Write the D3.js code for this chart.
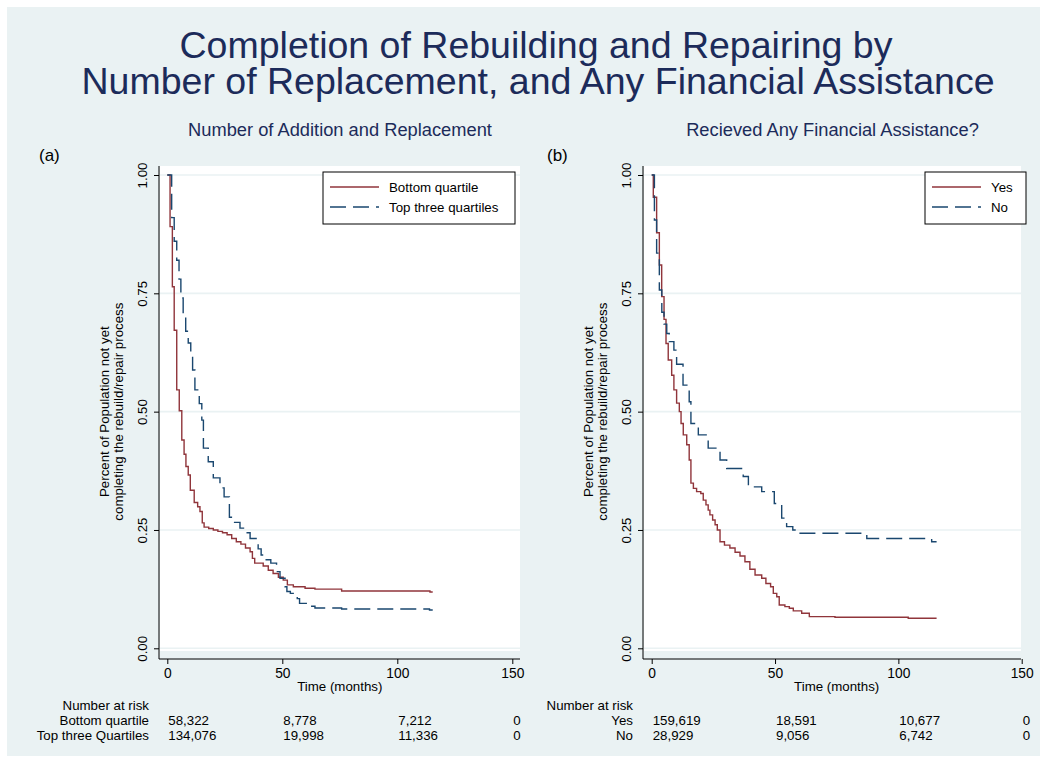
<!DOCTYPE html>
<html>
<head>
<meta charset="utf-8">
<script src="https://cdn.jsdelivr.net/npm/d3@7"></script>
<style>
  html, body { margin: 0; padding: 0; background: #fff; }
  svg { display: block; font-family: "Liberation Sans", Arial, sans-serif; }
</style>
</head>
<body>
<svg id="chart" width="1047" height="768"></svg>
<script>
// ---------- data ----------
const xTicks = [0, 50, 100, 150];
const yTicks = [0, 0.25, 0.5, 0.75, 1];
const yTickLabels = ["0.00", "0.25", "0.50", "0.75", "1.00"];

// (a) Number of addition and replacement
const bottomQuartileT = [0, 1.2, 2.2, 3.0, 4.1, 5.2, 6.3, 7.3, 8.1, 9.1, 10.0, 11.7, 13.2, 14.2, 15.2, 16.0, 18, 20, 22, 24, 26, 28, 30, 32, 34, 36, 37, 38, 41.7, 43.9, 46, 48.3, 50.4, 52.2, 54.8, 59.9, 64.2, 75.8, 114.2, 115.4];
const bottomQuartileS = [1, 0.891, 0.764, 0.672, 0.546, 0.502, 0.44, 0.41, 0.384, 0.366, 0.334, 0.308, 0.299, 0.289, 0.265, 0.256, 0.253, 0.25, 0.247, 0.244, 0.24, 0.232, 0.225, 0.22, 0.212, 0.204, 0.19, 0.18, 0.174, 0.165, 0.158, 0.15, 0.144, 0.134, 0.13, 0.127, 0.125, 0.121, 0.119, 0.119];
const topThreeT = [0, 1.9, 3.0, 4.1, 5.1, 5.9, 6.9, 8.0, 9.1, 10.2, 11.0, 12.0, 13.9, 15.0, 15.7, 17.8, 20.0, 22.9, 24.7, 27.0, 28.6, 31.6, 33.8, 36.0, 39.5, 40.8, 43.0, 45.0, 47.5, 49.0, 51.2, 52.0, 53.5, 56.5, 57.5, 62.8, 64.2, 75.8, 114.0, 115.4];
const topThreeS = [1, 0.91, 0.86, 0.82, 0.78, 0.74, 0.70, 0.67, 0.645, 0.626, 0.588, 0.546, 0.517, 0.482, 0.423, 0.394, 0.36, 0.339, 0.32, 0.277, 0.266, 0.254, 0.244, 0.232, 0.21, 0.197, 0.187, 0.18, 0.162, 0.148, 0.13, 0.12, 0.116, 0.105, 0.095, 0.089, 0.085, 0.083, 0.081, 0.081];

// (b) Received any financial assistance
const yesT = [0, 0.65, 2.0, 3.1, 4.05, 5.0, 5.8, 6.7, 8.1, 9.0, 10.1, 11.2, 11.9, 12.8, 14.2, 15.2, 15.9, 16.9, 18.2, 19.9, 20.9, 22.0, 22.9, 23.6, 24.7, 25.7, 26.6, 27.7, 29.5, 31.7, 33.8, 35.8, 37.8, 39.8, 41.9, 44.6, 46.3, 48.2, 49.3, 50.7, 51.7, 54, 55.8, 57.4, 60.8, 63.9, 74.3, 104, 115.5];
const yesS = [1, 0.953, 0.878, 0.81, 0.743, 0.695, 0.644, 0.609, 0.577, 0.546, 0.518, 0.5, 0.475, 0.451, 0.43, 0.398, 0.349, 0.338, 0.331, 0.327, 0.313, 0.303, 0.292, 0.282, 0.271, 0.261, 0.25, 0.225, 0.218, 0.212, 0.203, 0.195, 0.183, 0.167, 0.155, 0.148, 0.137, 0.13, 0.116, 0.109, 0.0915, 0.088, 0.0845, 0.079, 0.074, 0.067, 0.0655, 0.0634, 0.0634];
const noT = [0, 1.1, 2.0, 3.1, 4.1, 5.0, 6.1, 7.1, 9.0, 10.1, 12.7, 15.2, 15.9, 18.9, 22.9, 27.7, 30.4, 37.1, 39.2, 44.6, 49.7, 52.7, 54.7, 57.2, 59.4, 87.2, 113.5, 115.5];
const noS = [1, 0.905, 0.835, 0.757, 0.71, 0.685, 0.665, 0.648, 0.63, 0.6, 0.556, 0.521, 0.475, 0.451, 0.423, 0.398, 0.38, 0.363, 0.341, 0.331, 0.306, 0.275, 0.257, 0.25, 0.243, 0.232, 0.225, 0.225];

// number at risk
const riskLabelsA = ["Bottom quartile", "Top three Quartiles"];
const riskBottom = ["58,322", "8,778", "7,212", "0"];
const riskTop = ["134,076", "19,998", "11,336", "0"];
const riskLabelsB = ["Yes", "No"];
const riskYes = ["159,619", "18,591", "10,677", "0"];
const riskNo = ["28,929", "9,056", "6,742", "0"];

const legendA = ["Bottom quartile", "Top three quartiles"];
const legendB = ["Yes", "No"];

// ---------- styling ----------
const RED = "#90353b", BLUE = "#1a476f", NAVY = "#1c2b5a";
const BG = "#eaf2f3", GRID = "#eaf2f3";
const DASH = "16,7";
const FONT = 13.3;

const svg = d3.select("#chart");

svg.append("rect").attr("x", 0).attr("y", 0).attr("width", 1047).attr("height", 768).attr("fill", "#fff");
svg.append("rect").attr("x", 7).attr("y", 7).attr("width", 1033).attr("height", 749).attr("fill", BG);

// title
const title = svg.append("text").attr("text-anchor", "middle").attr("fill", NAVY).attr("font-size", 37.5);
title.append("tspan").attr("x", 536).attr("y", 58).text("Completion of Rebuilding and Repairing by");
title.append("tspan").attr("x", 538).attr("y", 94).text("Number of Replacement, and Any Financial Assistance");

const toPts = (T, S) => T.map((t, i) => ({ t, s: S[i] }));

function drawPanel(p){
  const x = d3.scaleLinear().domain([0, 150]).range([p.x0, p.x150]);
  const y = d3.scaleLinear().domain([0, 1]).range([648.3, 175]);
  const g = svg.append("g");

  // subtitle + panel letter
  g.append("text").attr("x", (p.plotL + p.plotR) / 2).attr("y", 136)
    .attr("text-anchor", "middle").attr("fill", NAVY).attr("font-size", 18.3).text(p.subtitle);
  g.append("text").attr("x", p.letterX).attr("y", 161).attr("font-size", 17).attr("fill", "#000").text(p.letter);

  // plot region
  g.append("rect").attr("x", p.plotL).attr("y", 166).attr("width", p.plotR - p.plotL).attr("height", 485).attr("fill", "#fff");

  // gridlines
  g.selectAll(".grid").data(yTicks).join("line")
    .attr("x1", p.plotL).attr("x2", p.plotR)
    .attr("y1", d => y(d)).attr("y2", d => y(d))
    .attr("stroke", GRID).attr("stroke-width", 1.6);

  // axes
  const ax = g.append("g").attr("transform", `translate(0,659)`)
    .call(d3.axisBottom(x).tickValues(xTicks).tickSize(5).tickPadding(4).tickFormat(d3.format("d")));
  ax.select(".domain").attr("d", `M${p.axisX},0H${p.plotR}`).attr("stroke", "#000");
  ax.selectAll("text").attr("font-size", 13.8).attr("font-family", null).attr("fill", "#000");
  ax.selectAll(".tick line").attr("stroke", "#000");

  const ay = g.append("g").attr("transform", `translate(${p.axisX},0)`)
    .call(d3.axisLeft(y).tickValues(yTicks).tickSize(5).tickFormat((d, i) => yTickLabels[i]));
  ay.select(".domain").attr("d", `M0,166V659`).attr("stroke", "#000");
  ay.selectAll(".tick line").attr("stroke", "#000");
  ay.selectAll("text").attr("font-size", FONT).attr("font-family", null).attr("fill", "#000")
    .attr("x", null).attr("dy", null).attr("text-anchor", "middle")
    .attr("transform", "translate(-12,0) rotate(-90)");

  // axis titles
  g.append("text").attr("x", (p.x0 + p.x150) / 2).attr("y", 691).attr("text-anchor", "middle")
    .attr("font-size", FONT).text("Time (months)");
  const yt = g.append("text").attr("text-anchor", "middle").attr("font-size", FONT)
    .attr("transform", `translate(${p.axisX - 50},${y(0.5)}) rotate(-90)`);
  yt.append("tspan").attr("x", 0).attr("y", 0).text("Percent of Population not yet");
  yt.append("tspan").attr("x", 0).attr("y", 13.5).text("completing the rebuild/repair process");

  // survival curves
  const line = d3.line().curve(d3.curveStepAfter).x(d => x(d.t)).y(d => y(d.s));
  p.series.forEach(s => {
    g.append("path").datum(toPts(s.T, s.S))
      .attr("fill", "none").attr("stroke", s.color).attr("stroke-width", 1.4)
      .attr("stroke-dasharray", s.dash).attr("d", line);
  });

  // legend
  const lg = g.append("g");
  lg.append("rect").attr("x", p.legX).attr("y", 172).attr("width", p.legW).attr("height", 52)
    .attr("fill", "#fff").attr("stroke", "#000").attr("stroke-width", 1);
  p.series.forEach((s, i) => {
    const ly = 187 + i * 20;
    lg.append("line").attr("x1", p.legX + 7).attr("x2", p.legX + 56).attr("y1", ly).attr("y2", ly)
      .attr("stroke", s.color).attr("stroke-width", 1.4).attr("stroke-dasharray", s.dash);
    lg.append("text").attr("x", p.legX + 66).attr("y", ly + 4.5).attr("font-size", FONT).text(s.name);
  });

  // number at risk table
  const rt = g.append("g").attr("font-size", FONT);
  rt.append("text").attr("x", p.axisX - 10).attr("y", 709.5).attr("text-anchor", "end").text("Number at risk");
  p.risk.forEach((r, i) => {
    const ry = 724.5 + i * 15;
    rt.append("text").attr("x", p.axisX - 10).attr("y", ry).attr("text-anchor", "end").text(r.label);
    rt.selectAll(null).data(r.values).join("text")
      .attr("x", (d, j) => x(xTicks[j]) + 1).attr("y", ry).text(d => d);
  });
}

drawPanel({
  x0: 167.3, x150: 512.3, plotL: 160, plotR: 520, axisX: 159,
  subtitle: "Number of Addition and Replacement", letter: "(a)", letterX: 39,
  legX: 323, legW: 192,
  series: [
    { name: legendA[0], T: bottomQuartileT, S: bottomQuartileS, color: RED, dash: null },
    { name: legendA[1], T: topThreeT, S: topThreeS, color: BLUE, dash: DASH }
  ],
  risk: [
    { label: riskLabelsA[0], values: riskBottom },
    { label: riskLabelsA[1], values: riskTop }
  ]
});

drawPanel({
  x0: 651.7, x150: 1021.7, plotL: 644, plotR: 1021, axisX: 643,
  subtitle: "Recieved Any Financial Assistance?", letter: "(b)", letterX: 547,
  legX: 925, legW: 101,
  series: [
    { name: legendB[0], T: yesT, S: yesS, color: RED, dash: null },
    { name: legendB[1], T: noT, S: noS, color: BLUE, dash: DASH }
  ],
  risk: [
    { label: riskLabelsB[0], values: riskYes },
    { label: riskLabelsB[1], values: riskNo }
  ]
});
</script>
</body>
</html>
